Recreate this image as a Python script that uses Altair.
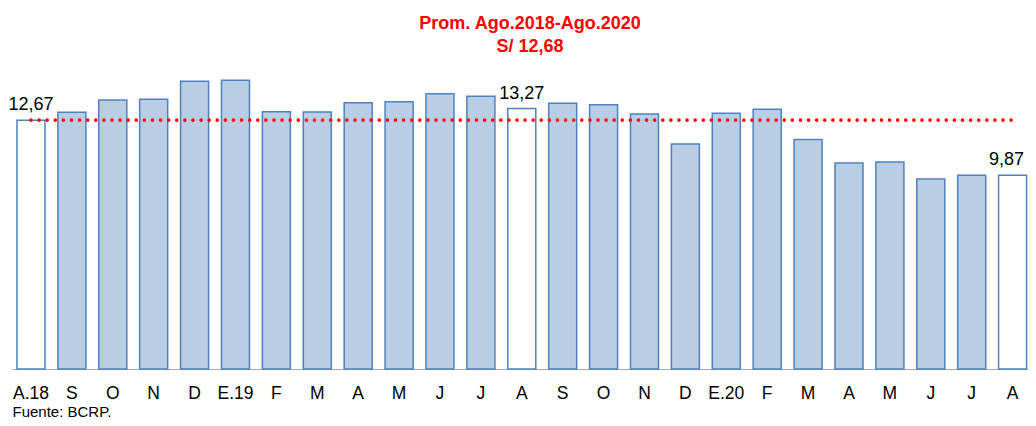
import altair as alt
import pandas as pd

# Data
etiquetas = ["A.18", "S", "O", "N", "D", "E.19", "F", "M", "A", "M", "J", "J",
             "A", "S", "O", "N", "D", "E.20", "F", "M", "A", "M", "J", "J", "A"]
valores = [12.67, 13.08, 13.71, 13.75, 14.66, 14.71, 13.11, 13.10, 13.57, 13.62,
           14.03, 13.90, 13.27, 13.54, 13.47, 13.00, 11.47, 13.03, 13.23, 11.69,
           10.50, 10.55, 9.68, 9.87, 9.87]
destacados = [0, 12, 24]
textos_valor = {0: "12,67", 12: "13,27", 24: "9,87"}
promedio = 12.68
titulo = ["Prom. Ago.2018-Ago.2020", "S/ 12,68"]
fuente = "Fuente: BCRP."

n = len(etiquetas)
df = pd.DataFrame({
    "i": list(range(n)),
    "valor": valores,
    "destacado": [i in destacados for i in range(n)],
    "texto": [textos_valor.get(i, "") for i in range(n)],
})
df_prom = pd.DataFrame({"i0": [0], "i1": [n - 1], "prom": [promedio]})

FONT = "Liberation Sans"
label_expr = "[" + ",".join("'" + e + "'" for e in etiquetas) + "][datum.value]"

xscale = alt.Scale(paddingInner=0.315, paddingOuter=0.078, align=0.78)
yscale = alt.Scale(domain=[0, 16])

x_enc = alt.X("i:O", scale=xscale, sort=None,
              axis=alt.Axis(title=fuente, labelExpr=label_expr, labelAngle=0,
                            labelFont=FONT, labelFontSize=17.5, labelColor="black",
                            labelBaseline="alphabetic", labelPadding=29,
                            ticks=False, tickSize=0,
                            domainColor="#A6A6A6", domainWidth=1.2,
                            titleFont=FONT, titleFontSize=15, titleFontWeight="normal",
                            titleColor="black", titleAlign="left", titleAnchor="start",
                            titleBaseline="alphabetic", titleX=0, titleY=47))

bars = alt.Chart(df).mark_bar(stroke="#4F81BD", strokeWidth=1.5).encode(
    x=x_enc,
    y=alt.Y("valor:Q", scale=yscale, axis=None),
    fill=alt.condition(alt.datum.destacado, alt.value("white"), alt.value("#B9CDE5")),
)

text_enc = dict(
    x=alt.X("i:O", scale=xscale, sort=None),
    y=alt.Y("valor:Q", scale=yscale),
    text="texto:N",
)

textos = alt.Chart(df).transform_filter(
    (alt.datum.texto != "") & (alt.datum.i < n - 1)
).mark_text(
    font=FONT, fontSize=18, color="black", baseline="alphabetic", dy=-10
).encode(**text_enc)

texto_ultimo = alt.Chart(df).transform_filter(
    (alt.datum.texto != "") & (alt.datum.i == n - 1)
).mark_text(
    font=FONT, fontSize=18, color="black", baseline="alphabetic", dy=-10, dx=-6
).encode(**text_enc)

linea = alt.Chart(df_prom).mark_rule(
    color="#FF0000", strokeWidth=3.6, strokeDash=[0, 8.1], strokeCap="round"
).encode(
    x=alt.X("i0:O", scale=xscale, bandPosition=0.5),
    x2=alt.X2("i1:O", bandPosition=0.5),
    y=alt.Y("prom:Q", scale=yscale),
)

chart = alt.layer(bars, linea, textos, texto_ultimo).properties(
    width=1016, height=314,
    title=alt.TitleParams(text=titulo, font=FONT, fontSize=18, fontWeight="bold",
                          color="#FF0000", lineHeight=23, anchor="middle",
                          baseline="bottom", offset=0, dx=10, dy=19),
    autosize=alt.AutoSizeParams(type="none"),
    padding={"left": 4, "top": 47, "right": 0, "bottom": 49},
).configure_view(stroke=None)

chart.save("out.html", embed_options={"renderer": "svg", "actions": False})
